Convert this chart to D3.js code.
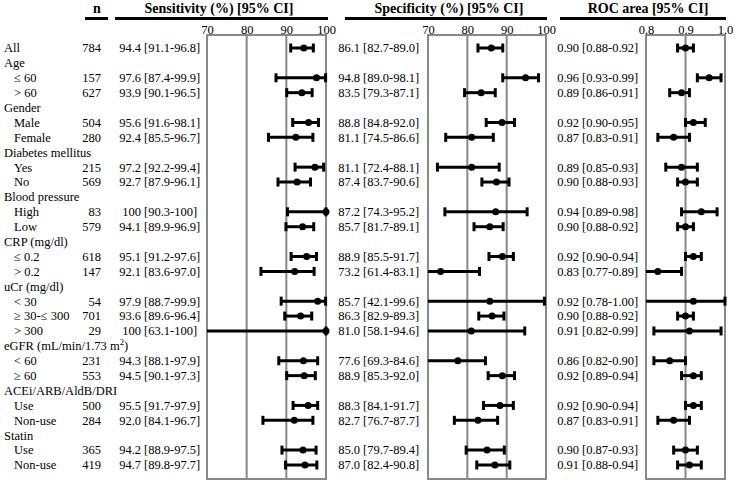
<!DOCTYPE html>
<html>
<head>
<meta charset="utf-8">
<script src="https://cdn.jsdelivr.net/npm/d3@7"></script>
<style>
  body { margin: 0; background: #fff; }
  svg text { font-family: "Liberation Serif", "Times New Roman", serif; fill: #000; }
</style>
</head>
<body>
<div id="chart"></div>
<script>
// row labels, null = group heading row
const rowLabels = ["All", "Age", "≤ 60", "> 60", "Gender", "Male", "Female",
  "Diabetes mellitus", "Yes", "No", "Blood pressure", "High", "Low",
  "CRP (mg/dl)", "≤ 0.2", "> 0.2", "uCr (mg/dl)", "< 30", "≥ 30-≤ 300", "> 300",
  "eGFR (mL/min/1.73 m", "< 60", "≥ 60", "ACEi/ARB/AldB/DRI", "Use", "Non-use",
  "Statin", "Use", "Non-use"];
const nValues = [784, null, 157, 627, null, 504, 280, null, 215, 569, null, 83, 579,
  null, 618, 147, null, 54, 701, 29, null, 231, 553, null, 500, 284, null, 365, 419];

const sens = [94.4, null, 97.6, 93.9, null, 95.6, 92.4, null, 97.2, 92.7, null, 100, 94.1,
  null, 95.1, 92.1, null, 97.9, 93.6, 100, null, 94.3, 94.5, null, 95.5, 92.0, null, 94.2, 94.7];
const sensLo = [91.1, null, 87.4, 90.1, null, 91.6, 85.5, null, 92.2, 87.9, null, 90.3, 89.9,
  null, 91.2, 83.6, null, 88.7, 89.6, 63.1, null, 88.1, 90.1, null, 91.7, 84.1, null, 88.9, 89.8];
const sensHi = [96.8, null, 99.9, 96.5, null, 98.1, 96.7, null, 99.4, 96.1, null, 100, 96.9,
  null, 97.6, 97.0, null, 99.9, 96.4, 100, null, 97.9, 97.3, null, 97.9, 96.7, null, 97.5, 97.7];

const spec = [86.1, null, 94.8, 83.5, null, 88.8, 81.1, null, 81.1, 87.4, null, 87.2, 85.7,
  null, 88.9, 73.2, null, 85.7, 86.3, 81.0, null, 77.6, 88.9, null, 88.3, 82.7, null, 85.0, 87.0];
const specLo = [82.7, null, 89.0, 79.3, null, 84.8, 74.5, null, 72.4, 83.7, null, 74.3, 81.7,
  null, 85.5, 61.4, null, 42.1, 82.9, 58.1, null, 69.3, 85.3, null, 84.1, 76.7, null, 79.7, 82.4];
const specHi = [89.0, null, 98.1, 87.1, null, 92.0, 86.6, null, 88.1, 90.6, null, 95.2, 89.1,
  null, 91.7, 83.1, null, 99.6, 89.3, 94.6, null, 84.6, 92.0, null, 91.7, 87.7, null, 89.4, 90.8];

const roc = [0.90, null, 0.96, 0.89, null, 0.92, 0.87, null, 0.89, 0.90, null, 0.94, 0.90,
  null, 0.92, 0.83, null, 0.92, 0.90, 0.91, null, 0.86, 0.92, null, 0.92, 0.87, null, 0.90, 0.91];
const rocLo = [0.88, null, 0.93, 0.86, null, 0.90, 0.83, null, 0.85, 0.88, null, 0.89, 0.88,
  null, 0.90, 0.77, null, 0.78, 0.88, 0.82, null, 0.82, 0.89, null, 0.90, 0.83, null, 0.87, 0.88];
const rocHi = [0.92, null, 0.99, 0.91, null, 0.95, 0.91, null, 0.93, 0.93, null, 0.98, 0.92,
  null, 0.94, 0.89, null, 1.00, 0.92, 0.99, null, 0.90, 0.94, null, 0.94, 0.91, null, 0.93, 0.94];

const pctTicks = [70, 80, 90, 100];
const rocTicks = [0.8, 0.9, 1.0];

const width = 735, height = 484;
const boxTop = 35, boxBottom = 479;

const svg = d3.select("#chart").append("svg")
  .attr("width", width)
  .attr("height", height);

let y = d3.scaleLinear().domain([0, rowLabels.length - 1]).range([48, 465]);

const fmtPct = (v) => (v === 100 ? "100" : v.toFixed(1));
const fmtRoc = (v) => v.toFixed(2);

// column headers
function header(text, cx, x1, x2) {
  svg.append("text").attr("x", cx).attr("y", 13)
    .attr("text-anchor", "middle")
    .style("font-size", "14px").style("font-weight", "bold")
    .text(text);
  svg.append("line").attr("x1", x1).attr("x2", x2)
    .attr("y1", 18.5).attr("y2", 18.5)
    .attr("stroke", "#000").attr("stroke-width", 3);
}
header("n", 97, 85, 108);
header("Sensitivity (%) [95% CI]", 219, 115, 328);
header("Specificity (%) [95% CI]", 449, 345, 547);
header("ROC area [95% CI]", 648, 560, 726);

// row labels
const rows = rowLabels.map((label, i) => ({ label: label, n: nValues[i], i: i }));

const labelText = svg.selectAll(".lab").data(rows).enter().append("text")
  .attr("class", "lab")
  .attr("x", (d) => (d.n != null && d.i > 0 ? 14 : 4))
  .attr("y", (d) => y(d.i))
  .attr("dy", "0.35em")
  .style("font-size", "12.5px")
  .text((d) => d.label);

// superscript for eGFR unit
labelText.filter((d) => d.label.startsWith("eGFR")).each(function () {
  const t = d3.select(this);
  t.append("tspan").attr("baseline-shift", "super").style("font-size", "8.5px").text("2");
  t.append("tspan").text(")");
});

svg.selectAll(".n").data(rows.filter((d) => d.n != null)).enter().append("text")
  .attr("x", 101)
  .attr("y", (d) => y(d.i))
  .attr("dy", "0.35em")
  .attr("text-anchor", "end")
  .style("font-size", "12.5px")
  .text((d) => d.n);

function panel(vals, los, his, ticks, tickFmt, valFmt, textX, x0, x1) {
  const x = d3.scaleLinear().domain([ticks[0], ticks[ticks.length - 1]]).range([x0, x1]);
  const data = vals.map((v, i) => ({ v: v, lo: los[i], hi: his[i], i: i }))
    .filter((d) => d.v != null);

  // value text
  svg.selectAll(null).data(data).enter().append("text")
    .attr("x", textX + 22)
    .attr("y", (d) => y(d.i))
    .attr("dy", "0.35em")
    .attr("text-anchor", "end")
    .style("font-size", "12.5px")
    .text((d) => valFmt(d.v));
  svg.selectAll(null).data(data).enter().append("text")
    .attr("x", textX + 25)
    .attr("y", (d) => y(d.i))
    .attr("dy", "0.35em")
    .style("font-size", "12.5px")
    .text((d) => "[" + valFmt(d.lo) + "-" + valFmt(d.hi) + "]");

  // tick labels
  const axis = svg.append("g")
    .attr("transform", "translate(0," + (boxTop - 1) + ")")
    .call(d3.axisTop(x).tickValues(ticks).tickFormat(tickFmt).tickSize(0).tickPadding(0));
  axis.select(".domain").remove();
  axis.selectAll("text")
    .style("font-family", "'Liberation Serif', 'Times New Roman', serif")
    .style("font-size", "12.5px")
    .attr("dy", "0em");

  // box and grid
  svg.append("rect")
    .attr("x", x0).attr("y", boxTop)
    .attr("width", x1 - x0).attr("height", boxBottom - boxTop)
    .attr("fill", "none").attr("stroke", "#888").attr("stroke-width", 2);
  svg.selectAll(null).data(ticks.slice(1, -1)).enter().append("line")
    .attr("x1", (d) => x(d)).attr("x2", (d) => x(d))
    .attr("y1", boxTop).attr("y2", boxBottom)
    .attr("stroke", "#888").attr("stroke-width", 2);

  const lo = x.domain()[0], hi = x.domain()[1];
  const clamp = (v) => x(Math.max(lo, Math.min(hi, v)));

  const g = svg.append("g");
  g.selectAll(null).data(data).enter().append("line")
    .attr("x1", (d) => clamp(d.lo)).attr("x2", (d) => clamp(d.hi))
    .attr("y1", (d) => y(d.i)).attr("y2", (d) => y(d.i))
    .attr("stroke", "#000").attr("stroke-width", 3);

  const caps = [];
  data.forEach((d) => {
    if (d.lo >= lo) caps.push({ v: d.lo, i: d.i });
    if (d.hi <= hi) caps.push({ v: d.hi, i: d.i });
  });
  g.selectAll(null).data(caps).enter().append("line")
    .attr("x1", (d) => x(d.v)).attr("x2", (d) => x(d.v))
    .attr("y1", (d) => y(d.i) - 4.5).attr("y2", (d) => y(d.i) + 4.5)
    .attr("stroke", "#000").attr("stroke-width", 3);

  g.selectAll(null).data(data).enter().append("circle")
    .attr("cx", (d) => x(d.v)).attr("cy", (d) => y(d.i))
    .attr("r", 3.5).attr("fill", "#000");
}

panel(sens, sensLo, sensHi, pctTicks, d3.format("d"), fmtPct, 119, 207, 326);
panel(spec, specLo, specHi, pctTicks, d3.format("d"), fmtPct, 338, 428, 546);
panel(roc, rocLo, rocHi, rocTicks, d3.format(".1f"), fmtRoc, 557, 646, 725);
</script>
</body>
</html>
